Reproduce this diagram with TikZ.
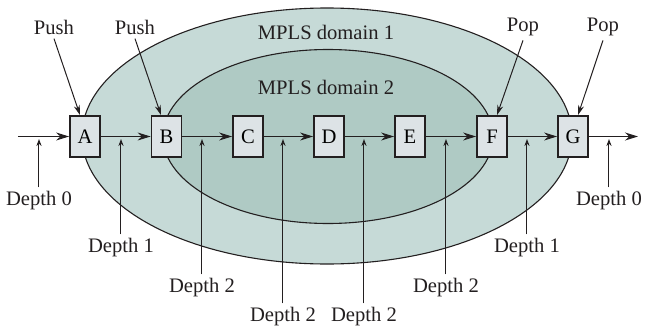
\documentclass[tikz,border=0pt]{standalone}
\usepackage{fontspec}
\setmainfont{Liberation Serif}
\usetikzlibrary{arrows.meta}
\definecolor{outerdom}{HTML}{C6DAD7}
\definecolor{innerdom}{HTML}{AFCAC4}
\definecolor{lsrfill}{HTML}{DDE3E6}
\definecolor{ink}{HTML}{231F20}
\begin{document}
\begin{tikzpicture}[x=0.5pt,y=-0.5pt,font=\fontsize{10.3}{12}\selectfont,
  lsr/.style={draw=ink,line width=0.9pt,fill=lsrfill,minimum width=15pt,minimum height=20.5pt,inner sep=0pt},
  lbl/.style={inner sep=2pt,text=ink},
  flow/.style={ink,line width=0.6pt,-{Stealth[length=6.5pt,width=4pt]}},
  tag/.style={ink,line width=0.5pt,-{Stealth[length=5pt,width=3pt]}},
  depth/.style={ink,line width=0.5pt,-{Stealth[length=3.5pt,width=2.6pt]}}]
  \useasboundingbox (0,0) rectangle (645,327);
  \draw[ink,line width=0.55pt,fill=outerdom](327,136)ellipse[x radius=245,y radius=128];
  \draw[ink,line width=0.55pt,fill=innerdom](328,136.5)ellipse[x radius=165,y radius=87];
  \node[lbl] (dom1) at (326,32) {MPLS domain 1};
  \node[lbl] (dom2) at (326,87) {MPLS domain 2};
  \foreach \n/\x in {A/85,B/166.5,C/248,D/329,E/410,F/492,G/573}
    \node[lsr] (\n) at (\x,136.5) {\n};
  \coordinate (in) at (18,136.5);
  \coordinate (out) at (638,136.5);
  \draw[flow] (in) -- (A);
  \foreach \a/\b in {A/B,B/C,C/D,D/E,E/F,F/G} \draw[flow] (\a) -- (\b);
  \draw[flow] (G) -- (out);
  \foreach \i/\x/\ly/\d in {0/39/201/0,1/121/248/1,2/202/288/2,3/283/317/2,4/364/317/2,5/446/288/2,6/527/248/1,7/609/201/0}{
    \coordinate (p\i) at (\x,139);
    \node[lbl] (depth\i) at (\x,\ly) {Depth \d};
    \draw[depth] (depth\i.north -| p\i) -- (p\i);
  }
  \node[lbl] (push1) at (54,27) {Push};
  \node[lbl] (push2) at (135,27) {Push};
  \node[lbl] (pop1) at (523,27) {Pop};
  \node[lbl] (pop2) at (603,27) {Pop};
  \draw[tag] (push1.south) -- ([xshift=-2.5pt]A.north);
  \draw[tag] (push2.south) -- ([xshift=-2.75pt]B.north);
  \draw[tag] (pop1.south) -- ([xshift=2.5pt]F.north);
  \draw[tag] (pop2.south) -- ([xshift=2.5pt]G.north);
\end{tikzpicture}
\end{document}
